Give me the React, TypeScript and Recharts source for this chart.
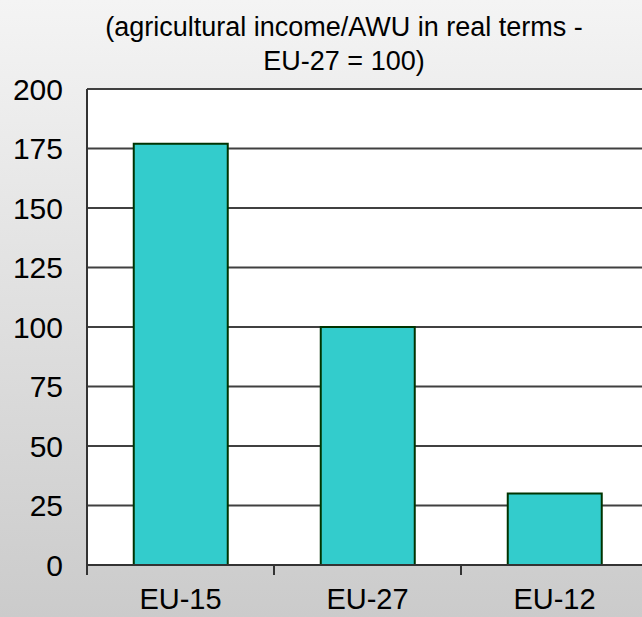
import React from 'react';
import { BarChart, Bar, XAxis, YAxis, CartesianGrid } from 'recharts';

const regions = ['EU-15', 'EU-27', 'EU-12'];
const incomeIndex = [177, 100, 30];
const yTicks = [0, 25, 50, 75, 100, 125, 150, 175, 200];
const titleLines = ['(agricultural income/AWU in real terms -', 'EU-27 = 100)'];

const chartData = regions.map((name, i) => ({ name, value: incomeIndex[i] }));

const FONT = '"Liberation Sans", Arial, Helvetica, sans-serif';
const CHART_W = 660;
const PLOT_LEFT = 87;
const PLOT_RIGHT = 648;
const HALF_BAND = (PLOT_RIGHT - PLOT_LEFT) / regions.length / 2;

// category ticks sit between the bars, labels sit under the bar
const CategoryTick = (props: any) => {
  const { x, y, payload } = props;
  return (
    <g>
      <line x1={x - HALF_BAND} x2={x - HALF_BAND} y1={y} y2={y + 10} stroke="#333" strokeWidth={2} />
      <text x={x} y={y + 44} textAnchor="middle" fill="#000" fontSize={29} fontFamily={FONT}>
        {payload.value}
      </text>
    </g>
  );
};

export default function App() {
  return (
    <div
      style={{
        position: 'absolute',
        left: 0,
        top: 0,
        width: 642,
        height: 617,
        overflow: 'hidden',
        background: 'linear-gradient(to bottom, #f4f4f4, #cbcbcb)',
        fontFamily: FONT,
      }}
    >
      {titleLines.map((line, i) => (
        <div
          key={i}
          style={{
            position: 'absolute',
            left: 44,
            width: 600,
            top: 10 + i * 34,
            textAlign: 'center',
            fontSize: 27,
            lineHeight: '34px',
            color: '#000',
            whiteSpace: 'nowrap',
          }}
        >
          {line}
        </div>
      ))}
      <div style={{ position: 'absolute', left: 0, top: 0 }}>
        <BarChart
          width={CHART_W}
          height={617}
          data={chartData}
          margin={{ top: 89, right: CHART_W - PLOT_RIGHT, bottom: 0, left: 0 }}
          barCategoryGap="25%"
        >
          <CartesianGrid vertical={false} fill="#ffffff" stroke="#404040" strokeWidth={2} />
          <XAxis
            dataKey="name"
            height={52}
            axisLine={{ stroke: '#333', strokeWidth: 2 }}
            tickLine={false}
            tickSize={0}
            tickMargin={0}
            tick={<CategoryTick />}
            interval={0}
          />
          <YAxis
            width={PLOT_LEFT}
            domain={[0, 200]}
            ticks={yTicks}
            interval={0}
            axisLine={{ stroke: '#333', strokeWidth: 2 }}
            tickLine={false}
            tickSize={0}
            tickMargin={24}
            tick={{ fill: '#000', fontSize: 30, fontFamily: FONT }}
          />
          <Bar dataKey="value" fill="#33CCCC" stroke="#003300" strokeWidth={2} isAnimationActive={false} />
        </BarChart>
      </div>
    </div>
  );
}
